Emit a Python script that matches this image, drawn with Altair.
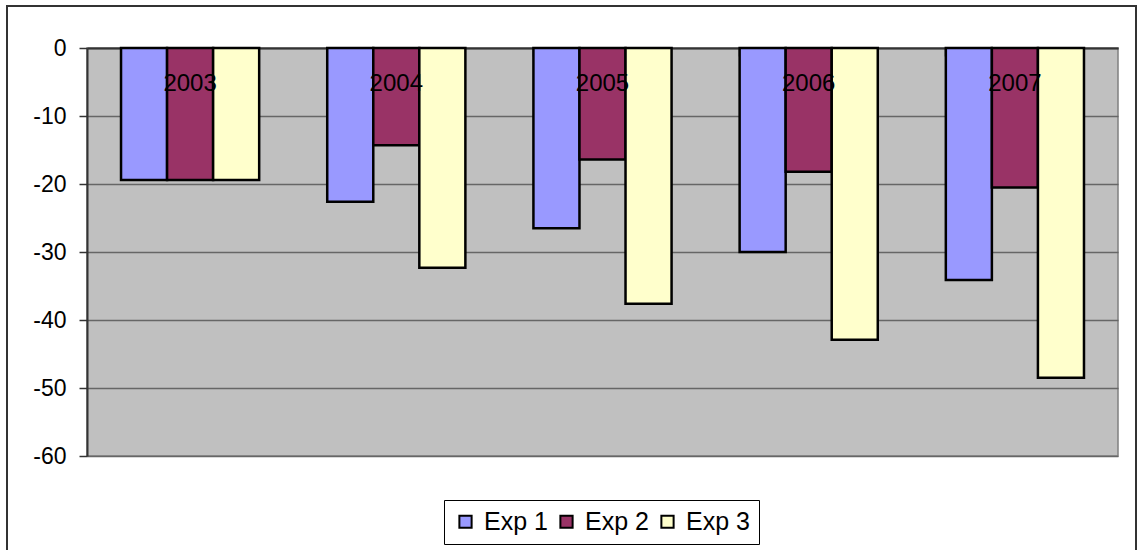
import altair as alt
import pandas as pd

# Series values per year
years = ["2003", "2004", "2005", "2006", "2007"]
series = ["Exp 1", "Exp 2", "Exp 3"]
exp1 = [-19.4, -22.6, -26.5, -30.0, -34.1]
exp2 = [-19.4, -14.3, -16.4, -18.2, -20.5]
exp3 = [-19.4, -32.3, -37.6, -42.9, -48.5]
colors = ["#9999FF", "#993366", "#FFFFCC"]
y_ticks = [0, -10, -20, -30, -40, -50, -60]

rows = []
for name, vals in zip(series, [exp1, exp2, exp3]):
    for yr, v in zip(years, vals):
        rows.append({"year": yr, "series": name, "value": v})
df = pd.DataFrame(rows)
years_df = pd.DataFrame({"year": years})

FONT = "Liberation Sans"
W, H = 1031, 408

x_scale = alt.Scale(domain=years, paddingInner=0.33, paddingOuter=0.165)

bars = alt.Chart(df).mark_bar(stroke="black", strokeWidth=2.5).encode(
    x=alt.X("year:N", scale=x_scale, sort=years,
            axis=alt.Axis(orient="bottom", offset=-H, title=None, labels=False,
                          bandPosition=0, tickSize=8, tickColor="#333333",
                          tickWidth=1.5, domainColor="#333333", domainWidth=2,
                          grid=False)),
    xOffset=alt.XOffset("series:N", sort=series, scale=alt.Scale(paddingInner=0, paddingOuter=0)),
    y=alt.Y("value:Q", scale=alt.Scale(domain=[-60, 0], nice=False, zero=False),
            axis=alt.Axis(title=None, values=y_ticks, labelExpr="'' + datum.value",
                          tickSize=8, tickColor="#333333", tickWidth=1.5,
                          domainColor="#333333", domainWidth=2,
                          labelFont=FONT, labelFontSize=23, labelColor="black",
                          labelPadding=13, gridColor="#666666", gridWidth=1.5)),
    y2=alt.datum(0),
    color=alt.Color("series:N", sort=series,
                    scale=alt.Scale(domain=series, range=colors),
                    legend=alt.Legend(title=None, orient="none", direction="horizontal",
                                      legendX=357, legendY=452,
                                      symbolType="square", symbolSize=150,
                                      symbolStrokeColor="black", symbolStrokeWidth=2,
                                      labelFont=FONT, labelFontSize=25, labelColor="black",
                                      labelOffset=6, columnPadding=6,
                                      padding=9, strokeColor="black",
                                      fillColor="white")),
)

labels = alt.Chart(years_df).mark_text(
    font=FONT, fontSize=24, color="black", baseline="middle", align="center"
).encode(
    x=alt.X("year:N", scale=x_scale, sort=years),
    y=alt.value(36),
    text="year:N",
)

frame = alt.Chart(pd.DataFrame({"k": [0]})).mark_rect(
    fill=None, stroke="#333333", strokeWidth=2
).encode(
    x=alt.value(-80), x2=alt.value(1049), y=alt.value(-42), y2=alt.value(520)
)

chart = alt.layer(bars, labels, frame).properties(
    width=W, height=H,
    autosize=alt.AutoSizeParams(type="none"),
    padding={"left": 87, "top": 48, "right": 20, "bottom": 94},
    background="white",
).configure_view(fill="#C0C0C0", stroke="#808080", strokeWidth=1.5)

chart.save("out.html", embed_options={"renderer": "svg", "actions": False})
